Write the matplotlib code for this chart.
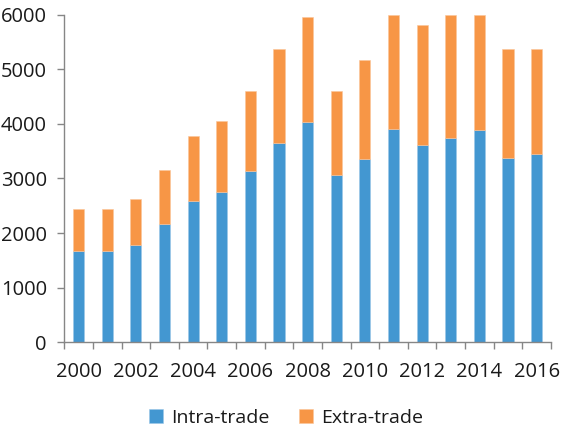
import matplotlib
matplotlib.use("Agg")
import matplotlib.pyplot as plt
from matplotlib.ticker import FixedLocator
import numpy as np

years = list(range(2000, 2017))
intra = [1670, 1670, 1790, 2170, 2580, 2750, 3130, 3650, 4030, 3070, 3360, 3910, 3620, 3740, 3880, 3380, 3440]
total = [2450, 2450, 2630, 3150, 3770, 4060, 4610, 5370, 5960, 4610, 5170, 6000, 5810, 6000, 6000, 5370, 5370]
extra = [t - i for t, i in zip(total, intra)]
year_labels = [str(y) if y % 2 == 0 else "" for y in years]
y_ticks = [0, 1000, 2000, 3000, 4000, 5000, 6000]

plt.rcParams['font.family'] = ['Open Sans', 'DejaVu Sans']

fig = plt.figure(figsize=(5.63, 4.30), dpi=100)
ax = fig.add_axes([0.1142, 0.204, 0.8645, 0.7618])

x = np.arange(len(years))
blue = "#4397D1"
orange = "#F79646"
w = 0.39
ax.bar(x, intra, width=w, color=blue, label="Intra-trade", edgecolor="#9cc8e8", linewidth=0.4)
ax.bar(x, extra, width=w, bottom=intra, color=orange, label="Extra-trade", edgecolor="#fbc59a", linewidth=0.4)

ax.set_xlim(-0.5, len(years) - 0.5)
ax.set_ylim(0, 6000)
ax.set_yticks(y_ticks)
ax.set_yticklabels([str(v) for v in y_ticks])

ax.set_xticks(x)
ax.set_xticklabels(year_labels)
ax.xaxis.set_minor_locator(FixedLocator(np.arange(-0.5, len(years), 1.0)))
ax.tick_params(axis='x', which='major', length=0, pad=14)
ax.tick_params(axis='x', which='minor', length=5, width=1, color="#868686", direction='out')
ax.tick_params(axis='y', which='major', length=5, width=1, color="#868686", direction='out', pad=7.5)
ax.tick_params(axis='both', labelsize=14.5, labelcolor="#1a1a1a")

for s in ['top', 'right']:
    ax.spines[s].set_visible(False)
for s in ['left', 'bottom']:
    ax.spines[s].set_color("#868686")
    ax.spines[s].set_linewidth(1)

fig.legend(loc='center', bbox_to_anchor=(0.508, 0.028), ncol=2, frameon=False,
           fontsize=14, handlelength=0.75, handleheight=0.75, handletextpad=0.4,
           columnspacing=1.5, labelcolor="#1a1a1a")

fig.savefig("out.png", dpi=100)
